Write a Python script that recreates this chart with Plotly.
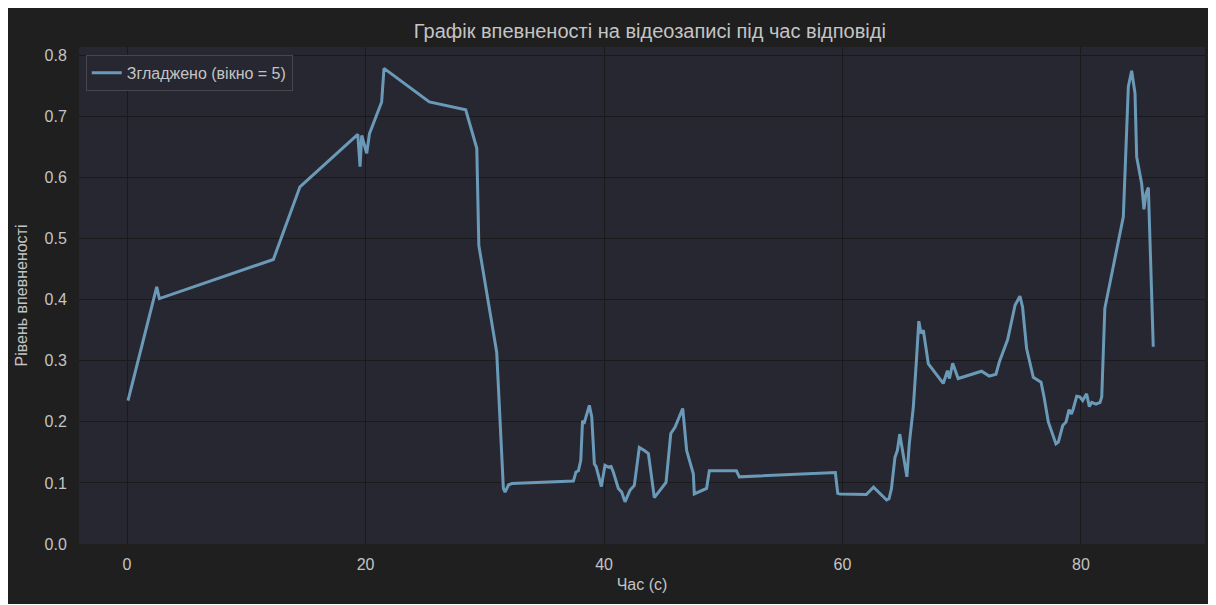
import plotly.graph_objects as go


# ====================================
# DATA
# ====================================

time_s = [
    0.08, 2.49, 2.71, 12.27, 14.5, 19.35, 19.54, 19.68, 20.1, 20.33,
    21.35, 21.55, 25.35, 28.4, 29.33, 29.5, 31.0, 31.56, 31.7, 32.0,
    32.26, 37.43, 37.65, 37.85, 38.05, 38.2, 38.32, 38.77, 38.97, 39.19,
    39.33, 39.78, 40.08, 40.36, 40.59, 40.78, 41.2, 41.48, 41.76, 42.18,
    42.54, 42.96, 43.38, 43.72, 44.22, 44.56, 44.84, 45.2, 45.6, 45.95,
    46.6, 46.93, 47.49, 47.57, 48.6, 48.83, 51.1, 51.35, 59.4, 59.6,
    59.8, 62.0, 62.6, 63.7, 63.9, 64.1, 64.4, 64.6, 64.8, 65.1,
    65.4, 65.6, 65.94, 66.2, 66.4, 66.58, 66.78, 67.2, 68.45, 68.8,
    68.97, 69.24, 69.7, 71.66, 72.3, 72.87, 73.15, 73.85, 74.47, 74.88,
    75.1, 75.44, 76.0, 76.65, 76.9, 77.26, 77.9, 78.1, 78.47, 78.75,
    79.0, 79.2, 79.36, 79.64, 79.9, 80.14, 80.47, 80.7, 80.9, 81.26,
    81.6, 81.74, 82.0, 83.55, 83.97, 84.25, 84.53, 84.67, 85.09, 85.28,
    85.45, 85.65, 86.06,
]

confidence = [
    0.235, 0.421, 0.402, 0.466, 0.585, 0.671, 0.618, 0.669, 0.640, 0.672,
    0.724, 0.779, 0.724, 0.711, 0.648, 0.489, 0.314, 0.091, 0.085, 0.097,
    0.099, 0.103, 0.118, 0.120, 0.137, 0.202, 0.197, 0.227, 0.208, 0.131,
    0.127, 0.094, 0.129, 0.126, 0.127, 0.118, 0.091, 0.085, 0.069, 0.088,
    0.096, 0.158, 0.153, 0.148, 0.076, 0.085, 0.093, 0.101, 0.181, 0.191,
    0.222, 0.153, 0.115, 0.082, 0.091, 0.120, 0.120, 0.110, 0.117, 0.083,
    0.082, 0.081, 0.093, 0.072, 0.074, 0.090, 0.142, 0.153, 0.180, 0.148,
    0.110, 0.164, 0.224, 0.301, 0.365, 0.345, 0.350, 0.295, 0.263, 0.284,
    0.271, 0.296, 0.271, 0.283, 0.275, 0.278, 0.298, 0.335, 0.391, 0.406,
    0.388, 0.320, 0.273, 0.265, 0.241, 0.200, 0.164, 0.167, 0.194, 0.200,
    0.220, 0.213, 0.222, 0.242, 0.241, 0.235, 0.246, 0.225, 0.232, 0.229,
    0.232, 0.241, 0.386, 0.536, 0.749, 0.775, 0.738, 0.634, 0.590, 0.548,
    0.574, 0.584, 0.323,
]

x_ticks = [0, 20, 40, 60, 80]
y_ticks = [0.0, 0.1, 0.2, 0.3, 0.4, 0.5, 0.6, 0.7, 0.8]

TEXT = "#c4c4c4"
GRID = "#1a1a1c"

# ====================================
# CHART
# ====================================

fig = go.Figure()

fig.add_trace(go.Scatter(
    x=time_s,
    y=confidence,
    mode="lines",
    name="Згладжено (вікно = 5)",
    line=dict(color="#6a9ab8", width=3),
))

fig.update_layout(
    width=1208,
    height=596,
    paper_bgcolor="#1f1f1f",
    plot_bgcolor="#262730",
    font=dict(family="Liberation Sans, Arial, sans-serif", size=16, color=TEXT),
    title=dict(
        text="Графік впевненості на відеозаписі під час відповіді",
        x=0.507,
        xref="paper",
        xanchor="center",
        y=1 - 23 / 596,
        yanchor="middle",
        font=dict(size=20, color=TEXT),
    ),
    margin=dict(l=71, r=11, t=39, b=60),
    showlegend=True,
    legend=dict(
        x=0.006,
        y=0.984,
        xanchor="left",
        yanchor="top",
        bgcolor="#262730",
        bordercolor="#44454d",
        borderwidth=1,
        font=dict(size=16, color=TEXT),
    ),
    xaxis=dict(
        range=[-4.03, 90.4],
        tickvals=x_ticks,
        showgrid=True,
        gridcolor=GRID,
        gridwidth=1,
        zeroline=False,
        ticks="outside",
        ticklen=6,
        tickcolor="rgba(0,0,0,0)",
        title=dict(text="Час (с)", font=dict(size=16, color=TEXT), standoff=6),
    ),
    yaxis=dict(
        range=[0, 0.814],
        tickvals=y_ticks,
        tickformat=".1f",
        showgrid=True,
        gridcolor=GRID,
        gridwidth=1,
        zeroline=False,
        ticks="outside",
        ticklen=8,
        tickcolor="rgba(0,0,0,0)",
        title=dict(text="Рівень впевненості", font=dict(size=16, color=TEXT), standoff=12),
    ),
)

fig.write_html("out.html")
